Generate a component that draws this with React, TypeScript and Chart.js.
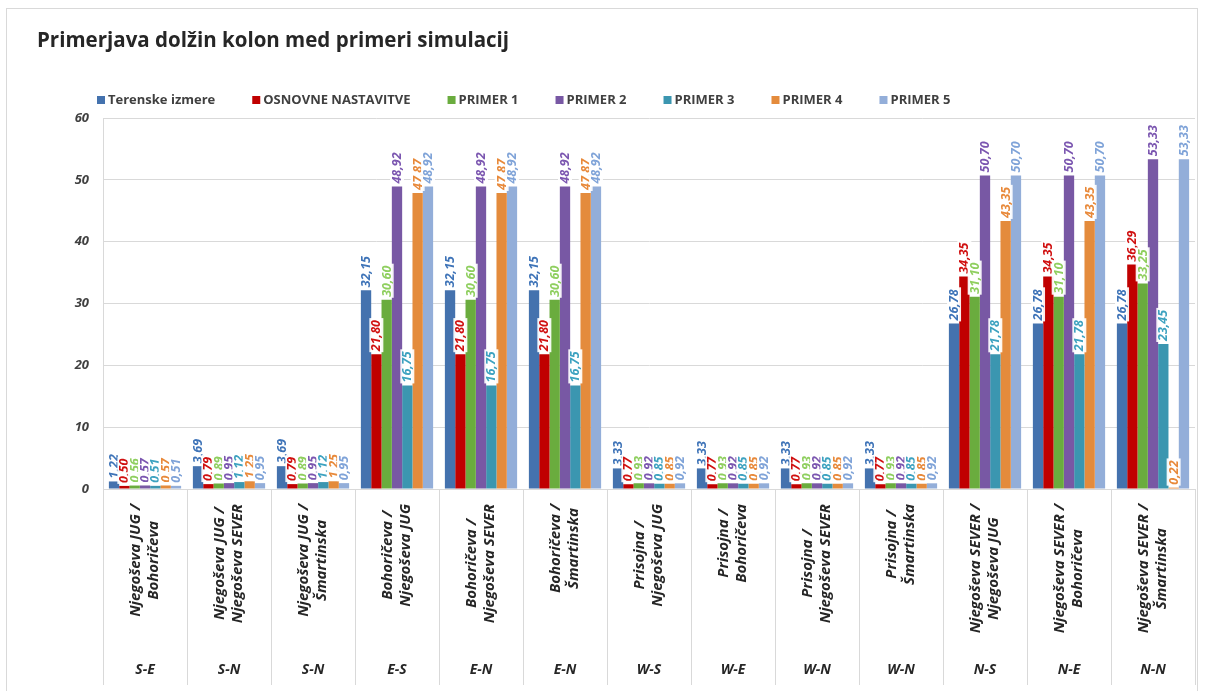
import React, { useEffect, useRef } from "react";
import { Chart, registerables } from "chart.js";

Chart.register(...registerables);

// Route pairs (two label lines each) and their direction codes
const routeLines: string[][] = [
  ["Njegoševa JUG /", "Bohoričeva"],
  ["Njegoševa JUG /", "Njegoševa SEVER"],
  ["Njegoševa JUG /", "Šmartinska"],
  ["Bohoričeva /", "Njegoševa JUG"],
  ["Bohoričeva /", "Njegoševa SEVER"],
  ["Bohoričeva /", "Šmartinska"],
  ["Prisojna /", "Njegoševa JUG"],
  ["Prisojna /", "Bohoričeva"],
  ["Prisojna /", "Njegoševa SEVER"],
  ["Prisojna /", "Šmartinska"],
  ["Njegoševa SEVER /", "Njegoševa JUG"],
  ["Njegoševa SEVER /", "Bohoričeva"],
  ["Njegoševa SEVER /", "Šmartinska"],
];
const directions = ["S-E", "S-N", "S-N", "E-S", "E-N", "E-N", "W-S", "W-E", "W-N", "W-N", "N-S", "N-E", "N-N"];

const terenskeIzmere = [1.22, 3.69, 3.69, 32.15, 32.15, 32.15, 3.33, 3.33, 3.33, 3.33, 26.78, 26.78, 26.78];
const osnovneNastavitve = [0.5, 0.79, 0.79, 21.8, 21.8, 21.8, 0.77, 0.77, 0.77, 0.77, 34.35, 34.35, 36.29];
const primer1 = [0.56, 0.89, 0.89, 30.6, 30.6, 30.6, 0.93, 0.93, 0.93, 0.93, 31.1, 31.1, 33.25];
const primer2 = [0.57, 0.95, 0.95, 48.92, 48.92, 48.92, 0.92, 0.92, 0.92, 0.92, 50.7, 50.7, 53.33];
const primer3 = [0.51, 1.12, 1.12, 16.75, 16.75, 16.75, 0.85, 0.85, 0.85, 0.85, 21.78, 21.78, 23.45];
const primer4 = [0.57, 1.25, 1.25, 47.87, 47.87, 47.87, 0.85, 0.85, 0.85, 0.85, 43.35, 43.35, 0.22];
const primer5 = [0.51, 0.95, 0.95, 48.92, 48.92, 48.92, 0.92, 0.92, 0.92, 0.92, 50.7, 50.7, 53.33];

const seriesNames = ["Terenske izmere", "OSNOVNE NASTAVITVE", "PRIMER 1", "PRIMER 2", "PRIMER 3", "PRIMER 4", "PRIMER 5"];
const seriesValues = [terenskeIzmere, osnovneNastavitve, primer1, primer2, primer3, primer4, primer5];
const barColors = ["#4472ae", "#c00000", "#6aac3e", "#7858a4", "#3b96b0", "#e48b3c", "#93aed9"];
const labelColors = ["#3f74b8", "#d01010", "#8fcf5f", "#7b56b0", "#3da2c0", "#e8893a", "#7fa3d8"];

const yTicks = [0, 10, 20, 30, 40, 50, 60];

const FONT = "'Open Sans', 'DejaVu Sans', sans-serif";
const TEXT = "#404040";

const fmt = (v: number) => v.toFixed(2).replace(".", ",");

// Title and legend drawn above the plot
const headerPlugin = {
  id: "header",
  afterDraw(chart: any) {
    const ctx = chart.ctx;
    ctx.save();
    ctx.fillStyle = "#262626";
    ctx.font = `bold 20.5px ${FONT}`;
    ctx.textAlign = "left";
    ctx.textBaseline = "middle";
    ctx.fillText("Primerjava dolžin kolon med primeri simulacij", 37, 41);

    ctx.font = `bold 13px ${FONT}`;
    let x = chart.chartArea.left - 6;
    const y = 100;
    chart.data.datasets.forEach((ds: any) => {
      ctx.fillStyle = ds.backgroundColor;
      ctx.fillRect(x, y - 4, 8, 8);
      ctx.fillStyle = TEXT;
      ctx.fillText(ds.label, x + 11, y);
      x += 11 + ctx.measureText(ds.label).width + 37;
    });
    ctx.restore();
  },
};

// Rotated value labels above each bar
const valueLabelPlugin = {
  id: "valueLabels",
  afterDatasetsDraw(chart: any) {
    const ctx = chart.ctx;
    ctx.save();
    ctx.font = `italic bold 12.5px ${FONT}`;
    ctx.textBaseline = "middle";
    ctx.textAlign = "left";
    chart.data.datasets.forEach((ds: any, di: number) => {
      const meta = chart.getDatasetMeta(di);
      meta.data.forEach((bar: any, i: number) => {
        const text = fmt(ds.data[i]);
        const w = ctx.measureText(text).width;
        ctx.save();
        ctx.translate(bar.x, bar.y - 3);
        ctx.rotate(-Math.PI / 2);
        ctx.fillStyle = "rgba(255,255,255,0.92)";
        ctx.fillRect(-1, -7, w + 3, 14);
        ctx.fillStyle = labelColors[di];
        ctx.fillText(text, 0, 0.5);
        ctx.restore();
      });
    });
    ctx.restore();
  },
};

// Two-level category labels under the plot
const categoryLabelPlugin = {
  id: "categoryLabels",
  afterDraw(chart: any) {
    const ctx = chart.ctx;
    const xs = chart.scales.x;
    const top = chart.chartArea.bottom + 15;
    ctx.save();
    ctx.fillStyle = "#262626";
    routeLines.forEach((lines, i) => {
      const cx = xs.getPixelForValue(i);
      ctx.font = `italic bold 15px ${FONT}`;
      const maxW = Math.max(...lines.map((l) => ctx.measureText(l).width));
      const cy = top + maxW / 2;
      lines.forEach((line, li) => {
        ctx.save();
        ctx.translate(cx + (li - (lines.length - 1) / 2) * 18, cy);
        ctx.rotate(-Math.PI / 2);
        ctx.textAlign = "center";
        ctx.textBaseline = "middle";
        ctx.fillText(line, 0, 0);
        ctx.restore();
      });
      ctx.font = `italic bold 14px ${FONT}`;
      ctx.textAlign = "center";
      ctx.textBaseline = "middle";
      ctx.fillText(directions[i], cx, 670);
    });
    ctx.restore();
  },
};

export default function App() {
  const canvasRef = useRef<HTMLCanvasElement | null>(null);

  useEffect(() => {
    if (!canvasRef.current) return;
    const chart = new Chart(canvasRef.current, {
      type: "bar",
      data: {
        labels: directions,
        datasets: seriesNames.map((name, i) => ({
          label: name,
          data: seriesValues[i],
          backgroundColor: barColors[i],
          borderWidth: 0,
          categoryPercentage: 0.86,
          barPercentage: 1,
        })),
      },
      options: {
        responsive: false,
        animation: false,
        layout: { padding: { top: 118, right: 10, bottom: 6, left: 0 } },
        plugins: {
          legend: { display: false },
          title: { display: false },
          tooltip: { enabled: false },
        },
        scales: {
          x: {
            ticks: { display: false },
            grid: {
              offset: true,
              drawOnChartArea: false,
              drawTicks: true,
              tickLength: 196,
              color: "#d9d9d9",
            },
            border: { display: true, color: "#d9d9d9" },
          },
          y: {
            min: 0,
            max: 60,
            afterBuildTicks: (s: any) => {
              s.ticks = yTicks.map((v) => ({ value: v }));
            },
            afterFit: (s: any) => {
              s.width = 103;
            },
            ticks: {
              padding: 14,
              color: TEXT,
              font: { family: FONT, size: 13, weight: "bold", style: "italic" },
            },
            grid: { color: "#d9d9d9", drawTicks: false },
            border: { display: true, color: "#d9d9d9" },
          },
        },
      },
      plugins: [headerPlugin, valueLabelPlugin, categoryLabelPlugin],
    });
    return () => chart.destroy();
  }, []);

  return (
    <div
      style={{
        position: "fixed",
        left: 0,
        top: 0,
        width: 1205,
        height: 691,
        background: "#ffffff",
      }}
    >
      <div
        style={{
          position: "absolute",
          left: 6,
          top: 8,
          width: 1192,
          height: 690,
          border: "1px solid #d9d9d9",
          boxSizing: "border-box",
        }}
      />
      <canvas ref={canvasRef} width={1205} height={691} style={{ position: "absolute", left: 0, top: 0 }} />
    </div>
  );
}
